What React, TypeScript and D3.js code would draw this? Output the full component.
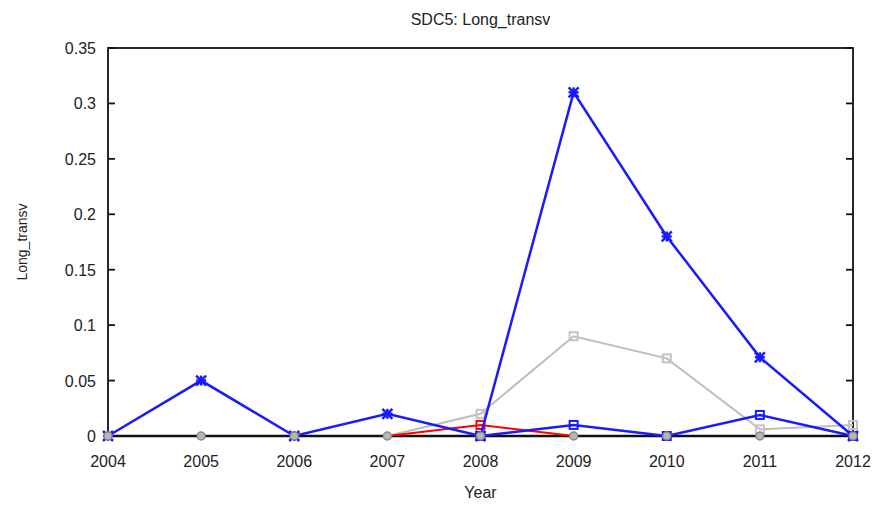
import React from "react";
import * as d3 from "d3";

const years = [2004, 2005, 2006, 2007, 2008, 2009, 2010, 2011, 2012];
const yTicks = [0, 0.05, 0.1, 0.15, 0.2, 0.25, 0.3, 0.35];

const zeroYears = [2004, 2005, 2006, 2007, 2008, 2009, 2010, 2011, 2012];
const zeroValues = [0, 0, 0, 0, 0, 0, 0, 0, 0];

const grayYears = [2007, 2008, 2009, 2010, 2011, 2012];
const grayValues = [0, 0.02, 0.09, 0.07, 0.006, 0.01];

const redYears = [2007, 2008, 2009];
const redValues = [0, 0.01, 0];

const blueSqYears = [2008, 2009, 2010, 2011, 2012];
const blueSqValues = [0, 0.01, 0, 0.019, 0];

const blueStarYears = [2004, 2005, 2006, 2007, 2008, 2009, 2010, 2011, 2012];
const blueStarValues = [0, 0.05, 0, 0.02, 0, 0.31, 0.18, 0.071, 0];

type Series = { xs: number[]; ys: number[]; color: string; width: number; marker: string; mcolor: string };

const series: Series[] = [
  { xs: grayYears, ys: grayValues, color: "#bdbdbd", width: 2, marker: "square", mcolor: "#c4c4c4" },
  { xs: redYears, ys: redValues, color: "#ff0000", width: 2, marker: "square", mcolor: "#ff0000" },
  { xs: blueSqYears, ys: blueSqValues, color: "#1a1aff", width: 2.5, marker: "square", mcolor: "#1a1aff" },
  { xs: blueStarYears, ys: blueStarValues, color: "#1a1aff", width: 2.5, marker: "star", mcolor: "#1a1aff" },
];

const zeroSeries: Series = { xs: zeroYears, ys: zeroValues, color: "#999999", width: 1.5, marker: "circle", mcolor: "#8a8a80" };

export default function App() {
  const W = 877, H = 507;
  const left = 108, right = 853, top = 48, bottom = 436;
  const x = d3.scaleLinear().domain([2004, 2012]).range([left, right]);
  const y = d3.scaleLinear().domain([0, 0.35]).range([bottom, top]);
  const line = d3.line<[number, number]>().x(d => x(d[0])).y(d => y(d[1]));
  const font = "'Liberation Sans', Arial, sans-serif";

  const marker = (s: Series, xv: number, yv: number, i: number) => {
    const cx = x(xv), cy = y(yv);
    if (s.marker === "circle") {
      return <circle key={i} cx={cx} cy={cy} r={4} fill="#b8b8b0" stroke={s.mcolor} strokeWidth={1.5} />;
    }
    if (yv === 0 && s.marker === "square" && s.color !== "#1a1aff") return null;
    if (s.marker === "square") {
      return <rect key={i} x={cx - 4} y={cy - 4} width={8} height={8} fill="none" stroke={s.mcolor} strokeWidth={2} />;
    }
    const r = 5;
    return (
      <g key={i} stroke={s.mcolor} strokeWidth={2.5}>
        <line x1={cx - r} y1={cy - r} x2={cx + r} y2={cy + r} />
        <line x1={cx - r} y1={cy + r} x2={cx + r} y2={cy - r} />
        <line x1={cx - r} y1={cy} x2={cx + r} y2={cy} />
        <line x1={cx} y1={cy - r} x2={cx} y2={cy + r} />
      </g>
    );
  };

  return (
    <svg width={W} height={H} style={{ position: "absolute", left: 0, top: 0, background: "#fff" }} fontFamily={font}>
      <rect x={0} y={0} width={W} height={H} fill="#fff" />
      <text x={(left + right) / 2} y={25} textAnchor="middle" fontSize={16} fill="#222">SDC5: Long_transv</text>
      <text transform={`translate(27,${(top + bottom) / 2}) rotate(-90)`} textAnchor="middle" fontSize={14} fill="#222">Long_transv</text>
      <text x={(left + right) / 2} y={498} textAnchor="middle" fontSize={16} fill="#222">Year</text>

      {/* frame */}
      <rect x={left} y={top} width={right - left} height={bottom - top} fill="none" stroke="#111" strokeWidth={1.8} />

      {yTicks.map((t, i) => (
        <g key={i}>
          <line x1={left} x2={left + 7} y1={y(t)} y2={y(t)} stroke="#111" strokeWidth={1.8} />
          <line x1={right} x2={right - 7} y1={y(t)} y2={y(t)} stroke="#111" strokeWidth={1.8} />
          <text x={left - 12} y={y(t) + 6} textAnchor="end" fontSize={16} fill="#222">{String(t)}</text>
        </g>
      ))}
      {years.map((yr, i) => (
        <text key={i} x={x(yr)} y={467} textAnchor="middle" fontSize={16} fill="#222">{yr}</text>
      ))}

      <line x1={left} x2={right} y1={bottom} y2={bottom} stroke="#111" strokeWidth={2.5} />

      {series.map((s, si) => (
        <g key={si}>
          <path d={line(s.xs.map((v, i) => [v, s.ys[i]] as [number, number])) || ""} fill="none" stroke={s.color} strokeWidth={s.width} />
          {s.xs.map((v, i) => marker(s, v, s.ys[i], i))}
        </g>
      ))}
      <g>{zeroSeries.xs.map((v, i) => marker(zeroSeries, v, zeroSeries.ys[i], i))}</g>
    </svg>
  );
}
